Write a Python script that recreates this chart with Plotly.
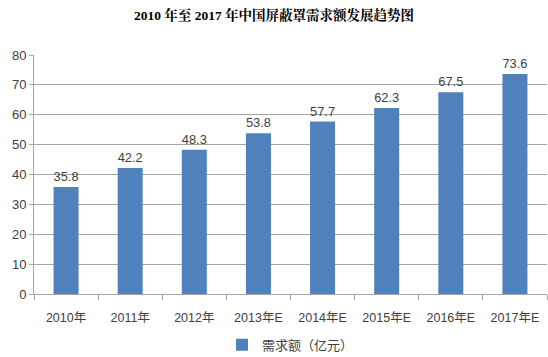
import plotly.graph_objects as go

categories = ["2010年", "2011年", "2012年", "2013年E", "2014年E", "2015年E", "2016年E", "2017年E"]
values = [35.8, 42.2, 48.3, 53.8, 57.7, 62.3, 67.5, 73.6]
series_name = "需求额（亿元）"
title_text = "2010 年至 2017 年中国屏蔽罩需求额发展趋势图"

fig = go.Figure()
fig.add_trace(go.Bar(
    x=categories, y=values, name=series_name,
    marker=dict(color="#4F81BD", line=dict(width=0)),
    width=0.39,
    text=[f"{v:.1f}" for v in values], textposition="outside",
    textfont=dict(size=13, color="#404040"),
    cliponaxis=False,
))

fig.update_layout(
    width=548, height=357,
    margin=dict(l=34, r=1, t=55, b=63, autoexpand=False),
    paper_bgcolor="white", plot_bgcolor="white",
    font=dict(family="Liberation Sans, Noto Sans CJK SC, sans-serif", size=12, color="#404040"),
    title=dict(text="<b>" + title_text + "</b>", x=0.5, xanchor="center", y=0.958, yanchor="middle",
               font=dict(family="Liberation Serif, Noto Serif CJK SC, Noto Sans CJK SC, serif", size=13.5, color="black")),
    showlegend=True,
    legend=dict(orientation="h", x=0.5, xanchor="center", y=-0.15, yanchor="top",
                font=dict(size=13, color="#404040")),
)
fig.update_yaxes(range=[0, 80], dtick=10, showgrid=True, gridcolor="#A6A6A6", gridwidth=1,
                 showline=True, linecolor="#A6A6A6", ticks="outside", ticklen=4, tickcolor="#A6A6A6",
                 zeroline=False, automargin=False, tickfont=dict(size=13, color="#404040"))
fig.update_xaxes(showline=True, linecolor="#A6A6A6", ticks="outside", ticklen=5, tickcolor="#A6A6A6",
                 tickson="boundaries", automargin=False, ticklabelstandoff=12,
                 tickfont=dict(size=12.5, color="#404040"))

fig.write_html("out.html", config={"displayModeBar": False},
               post_script="document.body.style.margin='0';document.body.style.overflow='hidden';")
